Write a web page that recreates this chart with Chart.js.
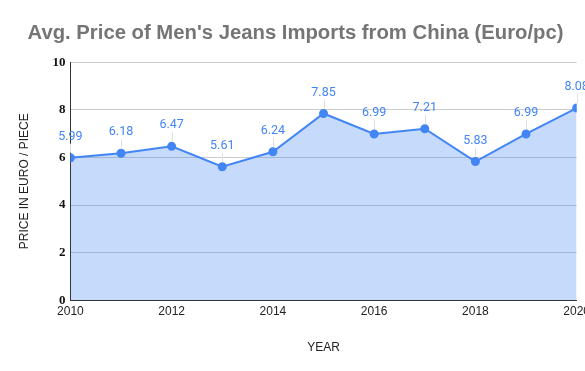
<!DOCTYPE html>
<html>
<head>
<meta charset="utf-8">
<script src="https://cdn.jsdelivr.net/npm/chart.js@4"></script>
<style>
  html, body { margin: 0; padding: 0; overflow: hidden; background: #fff; }
</style>
</head>
<body>
<canvas id="jeansChart" width="594" height="371"></canvas>
<script>
// years on the x axis
var years = [2010, 2011, 2012, 2013, 2014, 2015, 2016, 2017, 2018, 2019, 2020];
// avg. price in euro per piece
var prices = [5.99, 6.18, 6.47, 5.61, 6.24, 7.85, 6.99, 7.21, 5.83, 6.99, 8.08];
// y ticks 0..10 step 2
var yTicks = [0, 2, 4, 6, 8, 10];

var blue = '#4285F4';

// value labels above each point with a little leader line
var pointLabels = {
  id: 'pointLabels',
  afterDatasetsDraw: function(chart) {
    var ctx = chart.ctx;
    var meta = chart.getDatasetMeta(0);
    ctx.save();
    meta.data.forEach(function(pt, i) {
      ctx.strokeStyle = '#e0e0e0';
      ctx.lineWidth = 1;
      ctx.beginPath();
      ctx.moveTo(Math.round(pt.x) + 0.5, pt.y - 5);
      ctx.lineTo(Math.round(pt.x) + 0.5, pt.y - 14);
      ctx.stroke();
      ctx.fillStyle = blue;
      ctx.font = '12.5px Roboto, "Liberation Sans", Arial, sans-serif';
      ctx.textAlign = 'center';
      ctx.textBaseline = 'middle';
      ctx.fillText(prices[i].toFixed(2), pt.x, pt.y - 21);
    });
    ctx.restore();
  }
};

window.onload = function() {
  new Chart(document.getElementById('jeansChart'), {
    type: 'line',
    data: {
      datasets: [{
        label: 'Price',
        data: years.map(function(y, i) { return { x: y, y: prices[i] }; }),
        borderColor: blue,
        backgroundColor: 'rgba(66, 133, 244, 0.3)',
        fill: 'origin',
        borderWidth: 2,
        pointRadius: 3.5,
        pointBackgroundColor: blue,
        pointBorderColor: blue,
        tension: 0
      }]
    },
    plugins: [pointLabels],
    options: {
      responsive: false,
      animation: false,
      layout: { padding: { left: 1, right: 4, top: 0, bottom: 12 } },
      plugins: {
        legend: { display: false },
        tooltip: { enabled: false },
        title: {
          display: true,
          text: "Avg. Price of Men's Jeans Imports from China (Euro/pc)",
          color: '#757575',
          font: { family: '"Liberation Sans", Arial, sans-serif', size: 20.3, weight: 'bold' },
          padding: { top: 21, bottom: 17 }
        }
      },
      scales: {
        x: {
          type: 'linear',
          min: 2010,
          max: 2020,
          grid: { display: false, drawTicks: false },
          border: { display: true, color: '#333', width: 1 },
          ticks: {
            stepSize: 2,
            color: '#222',
            padding: 4,
            maxRotation: 0,
            font: { family: '"Liberation Sans", Arial, sans-serif', size: 12 },
            callback: function(v) { return String(v); }
          },
          title: {
            display: true,
            text: 'YEAR',
            color: '#222',
            padding: { top: 18 },
            font: { family: '"Liberation Sans", Arial, sans-serif', size: 12 }
          }
        },
        y: {
          min: 0,
          max: 10,
          afterBuildTicks: function(axis) {
            axis.ticks = yTicks.map(function(v) { return { value: v }; });
          },
          grid: { color: '#cccccc', drawTicks: false },
          border: { display: true, color: '#333', width: 1 },
          ticks: {
            color: '#111',
            padding: 5,
            font: { family: '"Liberation Serif", "Times New Roman", serif', size: 13, weight: 'bold' }
          },
          title: {
            display: true,
            text: 'PRICE IN EURO / PIECE',
            color: '#222',
            padding: { top: 16, bottom: 16 },
            font: { family: '"Liberation Sans", Arial, sans-serif', size: 12 }
          }
        }
      }
    }
  });
};
</script>
</body>
</html>
